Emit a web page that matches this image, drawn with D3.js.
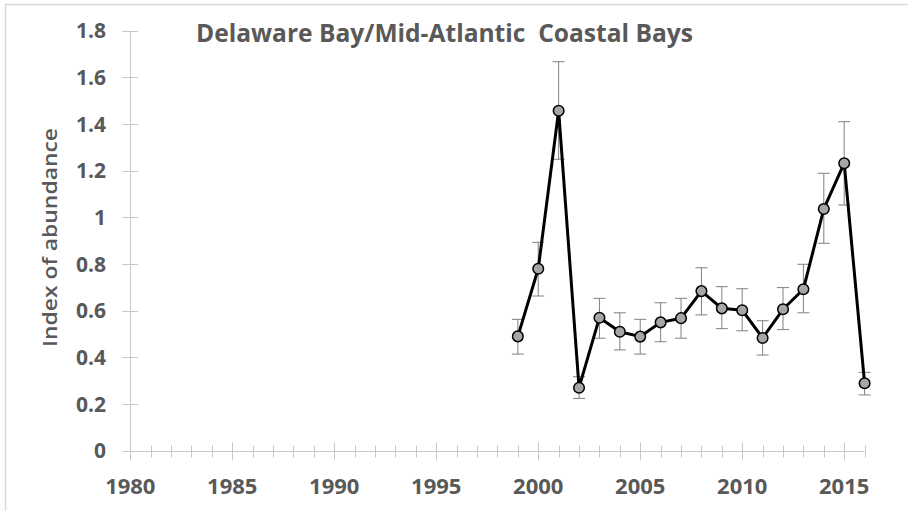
<!DOCTYPE html>
<html>
<head>
<meta charset="utf-8">
<script src="https://cdn.jsdelivr.net/npm/d3@7"></script>
<style>
  html, body { margin: 0; padding: 0; background: #fff; }
  svg { display: block; }
</style>
</head>
<body>
<svg id="chart" width="908" height="511"></svg>
<script>
// Survey years and index values with their upper / lower error limits
const years = [1999, 2000, 2001, 2002, 2003, 2004, 2005, 2006, 2007, 2008,
               2009, 2010, 2011, 2012, 2013, 2014, 2015, 2016];
const index = [0.49, 0.78, 1.457, 0.27, 0.57, 0.51, 0.489, 0.55, 0.568, 0.684,
               0.61, 0.602, 0.483, 0.606, 0.692, 1.036, 1.232, 0.289];
const upper = [0.563, 0.893, 1.667, 0.317, 0.653, 0.591, 0.563, 0.634, 0.653, 0.784,
               0.703, 0.694, 0.557, 0.699, 0.799, 1.189, 1.41, 0.336];
const lower = [0.414, 0.663, 1.249, 0.224, 0.482, 0.432, 0.414, 0.467, 0.482, 0.582,
               0.523, 0.514, 0.41, 0.519, 0.591, 0.889, 1.053, 0.239];
const yTicks = [0, 0.2, 0.4, 0.6, 0.8, 1, 1.2, 1.4, 1.6, 1.8];
const xMajor = [1980, 1985, 1990, 1995, 2000, 2005, 2010, 2015];
const xMinor = d3.range(1980, 2017);

const titleText = "Delaware Bay/Mid-Atlantic\u00A0 Coastal Bays";
const yTitle = "Index of abundance";

const labelColor = "#595959";
const axisColor = "#c8c8c8";
const font = "'Open Sans', 'Noto Sans', sans-serif";

const svg = d3.select("#chart");

// outer chart frame
svg.append("rect")
  .attr("x", 5.5).attr("y", 4.5)
  .attr("width", 940).attr("height", 540)
  .attr("fill", "none").attr("stroke", "#d9d9d9").attr("stroke-width", 1.5);

const x = d3.scaleLinear().domain([1980, 2016]).range([130.3, 864.6]);
const y = d3.scaleLinear().domain([0, 1.8]).range([450.7, 30.7]);

// y axis line + crossing ticks
svg.append("line")
  .attr("x1", 130.5).attr("x2", 130.5)
  .attr("y1", y(1.8)).attr("y2", y(0))
  .attr("stroke", axisColor).attr("stroke-width", 1);
svg.append("g").selectAll("line").data(yTicks).join("line")
  .attr("x1", 122).attr("x2", 138)
  .attr("y1", d => Math.round(y(d)) + 0.5).attr("y2", d => Math.round(y(d)) + 0.5)
  .attr("stroke", axisColor).attr("stroke-width", 1);
svg.append("g").selectAll("text").data(yTicks).join("text")
  .attr("x", 106).attr("y", d => y(d))
  .attr("dy", "0.36em")
  .attr("text-anchor", "end")
  .attr("font-family", font).attr("font-weight", 700).attr("font-size", 21)
  .attr("fill", labelColor)
  .text(d => d3.format("")(d));

// x axis line, minor and major ticks
const xAxisY = Math.round(y(0)) + 0.5;
svg.append("line")
  .attr("x1", x(1980)).attr("x2", x(2016))
  .attr("y1", xAxisY).attr("y2", xAxisY)
  .attr("stroke", axisColor).attr("stroke-width", 1);
svg.append("g").selectAll("line").data(xMinor).join("line")
  .attr("x1", d => Math.round(x(d)) + 0.5).attr("x2", d => Math.round(x(d)) + 0.5)
  .attr("y1", d => xMajor.includes(d) ? xAxisY - 9 : xAxisY - 6)
  .attr("y2", d => xMajor.includes(d) ? xAxisY + 9 : xAxisY + 6)
  .attr("stroke", axisColor).attr("stroke-width", 1);
svg.append("g").selectAll("text").data(xMajor).join("text")
  .attr("x", d => x(d)).attr("y", 493.5)
  .attr("text-anchor", "middle")
  .attr("font-family", font).attr("font-weight", 700).attr("font-size", 22)
  .attr("fill", labelColor)
  .text(d => d);

// axis title
svg.append("text")
  .attr("transform", "translate(57,237.5) rotate(-90)")
  .attr("text-anchor", "middle")
  .attr("font-family", font).attr("font-weight", 600).attr("font-size", 20)
  .attr("fill", labelColor)
  .attr("textLength", 219).attr("lengthAdjust", "spacingAndGlyphs")
  .text(yTitle);

// chart title
svg.append("text")
  .attr("x", 196).attr("y", 41.7)
  .attr("font-family", font).attr("font-weight", 700).attr("font-size", 25)
  .attr("fill", labelColor)
  .attr("textLength", 497).attr("lengthAdjust", "spacingAndGlyphs")
  .text(titleText);

const data = years.map((yr, i) => ({ yr, v: index[i], hi: upper[i], lo: lower[i] }));

// error bars
const eb = svg.append("g").attr("stroke", "#808080").attr("stroke-width", 1).attr("fill", "none");
eb.selectAll("line.v").data(data).join("line").attr("class", "v")
  .attr("x1", d => x(d.yr)).attr("x2", d => x(d.yr))
  .attr("y1", d => y(d.hi)).attr("y2", d => y(d.lo));
eb.selectAll("line.t").data(data).join("line").attr("class", "t")
  .attr("x1", d => x(d.yr) - 6).attr("x2", d => x(d.yr) + 6)
  .attr("y1", d => y(d.hi)).attr("y2", d => y(d.hi));
eb.selectAll("line.b").data(data).join("line").attr("class", "b")
  .attr("x1", d => x(d.yr) - 6).attr("x2", d => x(d.yr) + 6)
  .attr("y1", d => y(d.lo)).attr("y2", d => y(d.lo));

// series line
svg.append("path")
  .datum(data)
  .attr("fill", "none").attr("stroke", "#000").attr("stroke-width", 3)
  .attr("stroke-linejoin", "round")
  .attr("d", d3.line().x(d => x(d.yr)).y(d => y(d.v)));

// markers
svg.append("g").selectAll("circle").data(data).join("circle")
  .attr("cx", d => x(d.yr)).attr("cy", d => y(d.v))
  .attr("r", 5.3)
  .attr("fill", "#a6a6a6").attr("stroke", "#000").attr("stroke-width", 1.5);
</script>
</body>
</html>
